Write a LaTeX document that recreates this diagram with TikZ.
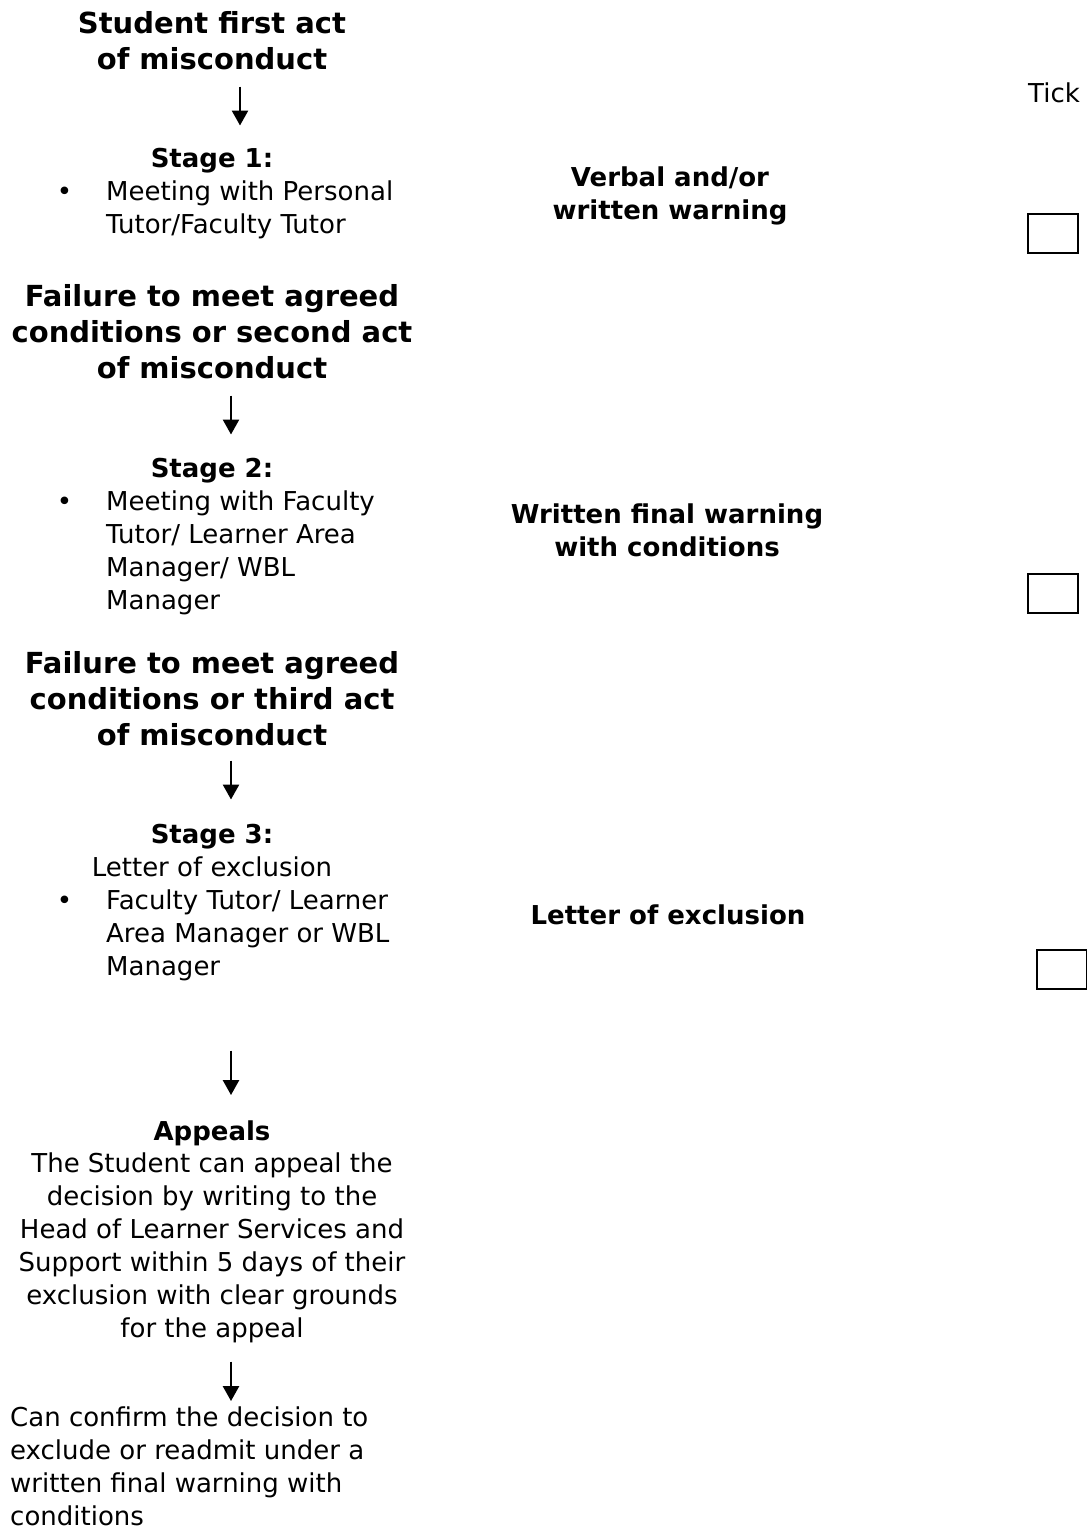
\documentclass[tikz,border=0pt]{standalone}
\usepackage{fontspec}
\setmainfont{DejaVu Sans}
\usetikzlibrary{arrows.meta}

\tikzset{
  heading/.style={font=\fontsize{29}{36}\selectfont\bfseries, align=center, inner sep=0pt, anchor=base},
  stagehead/.style={font=\fontsize{26}{33}\selectfont\bfseries, inner sep=0pt, anchor=base},
  outcome/.style={font=\fontsize{26}{33}\selectfont\bfseries, align=center, inner sep=0pt, anchor=base},
  bodytext/.style={font=\fontsize{26}{33}\selectfont, inner sep=0pt, anchor=base},
  bulletitem/.style={bodytext, align=left, anchor=base west},
  flow/.style={-{Triangle[width=16pt,length=15pt]}, line width=2.6pt},
  tickbox/.style={draw, line width=2.2pt, minimum width=50pt, minimum height=39pt, inner sep=0pt, anchor=north west}
}
\newcommand{\bul}{\llap{\textbullet\hspace{34pt}}}

\begin{document}
\begin{tikzpicture}[x=1pt,y=-1pt]
\useasboundingbox (0,0) rectangle (1087,1529);
% left column: the steps (multi-line nodes sit on their last line)
\node[heading] (t1) at (212,69) {Student first act\\of misconduct};
\node[stagehead] (s1) at (212,167) {Stage 1:};
\node[bulletitem] (s1a) at (106,233) {\bul Meeting with Personal\\Tutor/Faculty Tutor};
\node[heading] (t2) at (212,378) {Failure to meet agreed\\conditions or second act\\of misconduct};
\node[stagehead] (s2) at (212,477) {Stage 2:};
\node[bulletitem] (s2a) at (106,609) {\bul Meeting with Faculty\\Tutor/ Learner Area\\Manager/ WBL\\Manager};
\node[heading] (t3) at (212,745) {Failure to meet agreed\\conditions or third act\\of misconduct};
\node[stagehead] (s3) at (212,843) {Stage 3:};
\node[bodytext] (s3l) at (212,876) {Letter of exclusion};
\node[bulletitem] (s3a) at (106,975) {\bul Faculty Tutor/ Learner\\Area Manager or WBL\\Manager};
\node[stagehead] (ap) at (212,1140) {Appeals};
\node[bodytext, align=center] (apt) at (212,1337) {The Student can appeal the\\decision by writing to the\\Head of Learner Services and\\Support within 5 days of their\\exclusion with clear grounds\\for the appeal};
\node[bulletitem] (res) at (10,1525) {Can confirm the decision to\\exclude or readmit under a\\written final warning with\\conditions};
% middle column: outcomes
\node[outcome] (o1) at (670,219) {Verbal and/or\\written warning};
\node[outcome] (o2) at (667,556) {Written final warning\\with conditions};
\node[outcome] (o3) at (668,924) {Letter of exclusion};
% right column: tick boxes
\node[bodytext, anchor=base west] (tick) at (1028,102) {Tick};
\node[tickbox] (b1) at (1027,213) {};
\node[tickbox] (b2) at (1027,573) {};
\node[tickbox] (b3) at (1036,949) {};
% arrows
\draw[flow, shorten <=17pt, shorten >=22pt] (t1.south -| 240,0) -- (s1.north -| 240,0);
\draw[flow, shorten <=17pt, shorten >=23pt] (t2.south -| 231,0) -- (s2.north -| 231,0);
\draw[flow, shorten <=15pt, shorten >=24pt] (t3.south -| 231,0) -- (s3.north -| 231,0);
\draw[flow, shorten <=70pt, shorten >=25pt] (s3a.south -| 231,0) -- (ap.north -| 231,0);
\draw[flow, shorten <=19pt, shorten >=5pt] (apt.south -| 231,0) -- (res.north -| 231,0);
\end{tikzpicture}
\end{document}
